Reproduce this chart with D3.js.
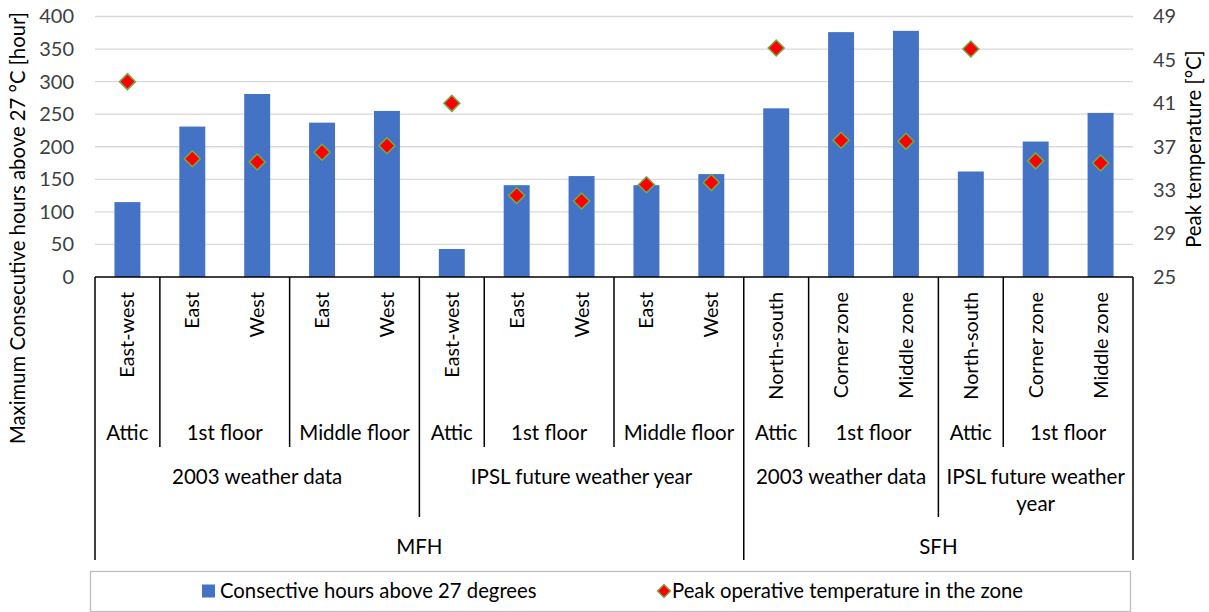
<!DOCTYPE html>
<html>
<head>
<meta charset="utf-8">
<script src="https://cdn.jsdelivr.net/npm/d3@7"></script>
<style>
  html, body { margin: 0; padding: 0; background: #fff; }
  svg { display: block; font-family: Lato, "Liberation Sans", sans-serif; }
</style>
</head>
<body>
<svg id="chart" width="1209" height="612"></svg>
<script>
// ---------- data ----------
const zones = ["East-west","East","West","East","West","East-west","East","West","East","West",
               "North-south","Corner zone","Middle zone","North-south","Corner zone","Middle zone"];
const hours = [115, 231, 281, 237, 255, 43, 141, 155, 141, 158, 259, 376, 378, 162, 208, 252];
const peakTemps = [43.0, 35.9, 35.6, 36.5, 37.1, 41.0, 32.5, 32.0, 33.5, 33.7, 46.1, 37.6, 37.5, 46.0, 35.7, 35.5];

const floorLabels = ["Attic","1st floor","Middle floor","Attic","1st floor","Middle floor","Attic","1st floor","Attic","1st floor"];
const floorSpans  = [1, 2, 2, 1, 2, 2, 1, 2, 1, 2];
const weatherLabels = ["2003 weather data","IPSL future weather year","2003 weather data","IPSL future weather year"];
const weatherSpans  = [5, 5, 3, 3];
const buildingLabels = ["MFH","SFH"];
const buildingSpans  = [10, 6];

const leftTicks = [0, 50, 100, 150, 200, 250, 300, 350, 400];
const rightTicks = [25, 29, 33, 37, 41, 45, 49];

const seriesNames = ["Consective hours above 27 degrees", "Peak operative temperature in the zone"];
const leftTitle = "Maximum Consecutive hours above 27 °C [hour]";
const rightTitle = "Peak temperature [°C]";

// ---------- layout ----------
const plotL = 95, plotR = 1133, plotT = 16.5, plotB = 277;
const svg = d3.select("#chart");
const textColor = "#404040";
const fsCat = 20.5, fsZone = 19.8, fsTick = 20, fsTitle = 20.3, fsLegend = 20.3;

const x = d3.scaleBand().domain(d3.range(zones.length)).range([plotL, plotR]).paddingInner(0).paddingOuter(0);
const yL = d3.scaleLinear().domain([0, 400]).range([plotB, plotT]);
const yR = d3.scaleLinear().domain([25, 49]).range([plotB, plotT]);

// gridlines
svg.append("g").selectAll("line").data(leftTicks.filter(d => d > 0)).join("line")
  .attr("x1", plotL).attr("x2", plotR)
  .attr("y1", d => yL(d)).attr("y2", d => yL(d))
  .attr("stroke", "#d9d9d9").attr("stroke-width", 1.3);

// left axis
const axL = svg.append("g").attr("transform", `translate(${plotL},0)`)
  .call(d3.axisLeft(yL).tickValues(leftTicks).tickSize(0).tickPadding(21));
axL.select(".domain").remove();
axL.selectAll("text").attr("font-size", fsTick).attr("fill", textColor).attr("font-family", "Lato");

// right axis
const axR = svg.append("g").attr("transform", `translate(${plotR},0)`)
  .call(d3.axisRight(yR).tickValues(rightTicks).tickSize(0).tickPadding(20));
axR.select(".domain").remove();
axR.selectAll("text").attr("font-size", fsTick).attr("fill", textColor).attr("font-family", "Lato");

// bars
const bw = x.bandwidth() * 0.4;
svg.append("g").selectAll("rect").data(hours).join("rect")
  .attr("x", (d, i) => x(i) + x.bandwidth() / 2 - bw / 2)
  .attr("width", bw)
  .attr("y", d => yL(d))
  .attr("height", d => yL(0) - yL(d))
  .attr("fill", "#4472c4");

// diamonds
const dsz = 8;
const diamond = (cx, cy, r) => `M${cx},${cy - r}L${cx + r},${cy}L${cx},${cy + r}L${cx - r},${cy}Z`;
svg.append("g").selectAll("path").data(peakTemps).join("path")
  .attr("d", (d, i) => diamond(x(i) + x.bandwidth() / 2, yR(d), dsz))
  .attr("fill", "#ff0000").attr("stroke", "#70ad47").attr("stroke-width", 1.5);

// ---------- multi-level category axis ----------
const axG = svg.append("g");
const lineAttrs = sel => sel.attr("stroke", "#000").attr("stroke-width", 1.5);
axG.append("line").attr("x1", plotL).attr("x2", plotR).attr("y1", plotB).attr("y2", plotB).call(lineAttrs);

const lvl1Bottom = 447, lvl2Bottom = 517, lvl3Bottom = 560;

function boundaries(spans) {
  const b = [0]; let acc = 0;
  spans.forEach(s => { acc += s; b.push(acc); });
  return b;
}
function xAt(idx) { return idx >= zones.length ? plotR : x(idx); }

const bFloor = boundaries(floorSpans), bWeather = boundaries(weatherSpans), bBuild = boundaries(buildingSpans);
bFloor.forEach(b => {
  let bottom = lvl1Bottom;
  if (bWeather.includes(b)) bottom = lvl2Bottom;
  if (bBuild.includes(b)) bottom = lvl3Bottom;
  axG.append("line").attr("x1", xAt(b)).attr("x2", xAt(b)).attr("y1", plotB).attr("y2", bottom).call(lineAttrs);
});

// zone labels (rotated)
axG.selectAll("text.zone").data(zones).join("text").attr("class", "zone")
  .attr("transform", (d, i) => `translate(${x(i) + x.bandwidth() / 2},292) rotate(-90)`)
  .attr("text-anchor", "end").attr("dy", "0.35em")
  .attr("font-size", fsZone).attr("fill", "#000").text(d => d);

function groupLabels(labels, spans, cy, cls) {
  const b = boundaries(spans);
  labels.forEach((lab, k) => {
    const x0 = xAt(b[k]), x1 = xAt(b[k + 1]);
    const cx = (x0 + x1) / 2, avail = x1 - x0 - 6;
    const t = axG.append("text").attr("class", cls).attr("x", cx).attr("y", cy)
      .attr("text-anchor", "middle").attr("dy", "0.35em").attr("font-size", fsCat).attr("fill", "#000").text(lab);
    if (t.node().getComputedTextLength() > avail) {
      const words = lab.split(" ");
      let line1 = [], rest = words.slice();
      t.text("");
      while (rest.length) {
        const test = line1.concat(rest[0]).join(" ");
        t.text(test);
        if (t.node().getComputedTextLength() > avail && line1.length) break;
        line1.push(rest.shift());
      }
      t.text("");
      t.append("tspan").attr("x", cx).attr("dy", "0.35em").text(line1.join(" "));
      t.append("tspan").attr("x", cx).attr("dy", "1.3em").text(rest.join(" "));
    }
  });
}
groupLabels(floorLabels, floorSpans, 433, "floor");
groupLabels(weatherLabels, weatherSpans, 477, "weather");
groupLabels(buildingLabels, buildingSpans, 547, "building");

// axis titles
svg.append("text").attr("transform", `translate(18,228) rotate(-90)`)
  .attr("text-anchor", "middle").attr("dy", "0.35em").attr("font-size", fsTitle).attr("fill", "#000").text(leftTitle);
svg.append("text").attr("transform", `translate(1194,149) rotate(-90)`)
  .attr("text-anchor", "middle").attr("dy", "0.35em").attr("font-size", fsTitle).attr("fill", "#000").text(rightTitle);

// ---------- legend ----------
const lg = svg.append("g");
lg.append("rect").attr("x", 90.5).attr("y", 571.5).attr("width", 1040).attr("height", 40)
  .attr("fill", "#fff").attr("stroke", "#bfbfbf").attr("stroke-width", 1.3);
const ly = 591;
lg.append("rect").attr("x", 202).attr("y", ly - 6.5).attr("width", 13).attr("height", 13).attr("fill", "#4472c4");
lg.append("text").attr("x", 220).attr("y", ly).attr("dy", "0.35em").attr("font-size", fsLegend).attr("fill", "#000").text(seriesNames[0]);
lg.append("path").attr("d", diamond(664, ly, 6.5)).attr("fill", "#ff0000").attr("stroke", "#70ad47").attr("stroke-width", 1.3);
lg.append("text").attr("x", 672).attr("y", ly).attr("dy", "0.35em").attr("font-size", fsLegend).attr("fill", "#000").text(seriesNames[1]);
</script>
</body>
</html>
